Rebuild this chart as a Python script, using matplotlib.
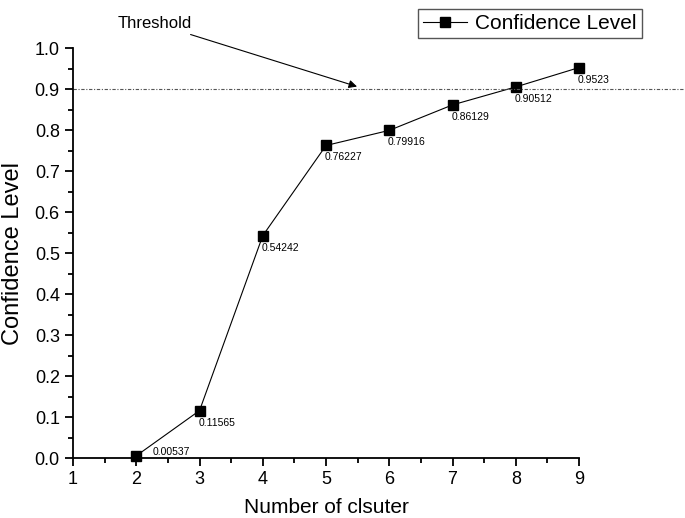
import matplotlib
matplotlib.use('Agg')
import matplotlib.pyplot as plt
from matplotlib.ticker import MultipleLocator

plt.rcParams['font.family'] = ['Liberation Sans', 'DejaVu Sans']

clusters = [2, 3, 4, 5, 6, 7, 8, 9]
confidence = [0.00537, 0.11565, 0.54242, 0.76227, 0.79916, 0.86129, 0.90512, 0.9523]
labels = ['0.00537', '0.11565', '0.54242', '0.76227', '0.79916', '0.86129', '0.90512', '0.9523']
threshold = 0.9

fig = plt.figure(figsize=(6.85, 5.18), dpi=100)
ax = fig.add_axes([0.1066, 0.1158, 0.7387, 0.7915])

line, = ax.plot(clusters, confidence, '-', color='black', lw=0.8, marker='s',
                markersize=7.5, clip_on=False, label='Confidence Level')
ax.plot([1, 10.7], [threshold, threshold], color='#555555', lw=0.8,
        linestyle=(0, (3, 1.5, 1, 1.5)), clip_on=False)

for i in range(len(clusters)):
    if i == 0:
        ax.annotate(labels[i], (clusters[i], confidence[i]), xytext=(12, 3),
                    textcoords='offset points', ha='left', va='center', fontsize=7.5)
    else:
        ax.annotate(labels[i], (clusters[i], confidence[i]), xytext=(-1, -5),
                    textcoords='offset points', ha='left', va='top', fontsize=7.5)

ax.annotate('Threshold', xy=(5.49, 0.906), xytext=(1.71, 1.06),
            textcoords='data', ha='left', va='center', fontsize=12,
            arrowprops=dict(arrowstyle='-|>', color='black', lw=0.8,
                            mutation_scale=12, shrinkA=2, shrinkB=0),
            annotation_clip=False)

ax.set_xlim(1, 9)
ax.set_ylim(0, 1.0)
ax.xaxis.set_major_locator(MultipleLocator(1))
ax.xaxis.set_minor_locator(MultipleLocator(0.5))
ax.yaxis.set_major_locator(MultipleLocator(0.1))
ax.yaxis.set_minor_locator(MultipleLocator(0.05))
ax.yaxis.set_major_formatter(plt.FormatStrFormatter('%.1f'))
ax.tick_params(which='major', direction='out', length=6, width=1.3, labelsize=13)
ax.tick_params(which='minor', direction='out', length=3.5, width=1.3)
ax.spines['top'].set_visible(False)
ax.spines['right'].set_visible(False)
ax.spines['left'].set_linewidth(1.3)
ax.spines['bottom'].set_linewidth(1.3)

ax.set_xlabel('Number of clsuter', fontsize=15, labelpad=7)
ax.set_ylabel('Confidence Level', fontsize=17, labelpad=8)

fig.legend(handles=[line], loc='upper right', bbox_to_anchor=(0.952, 1.003),
           fontsize=15, fancybox=False, edgecolor='#555555', framealpha=1,
           handlelength=2.1, borderpad=0.25, handletextpad=0.4)

plt.savefig('out.png')
